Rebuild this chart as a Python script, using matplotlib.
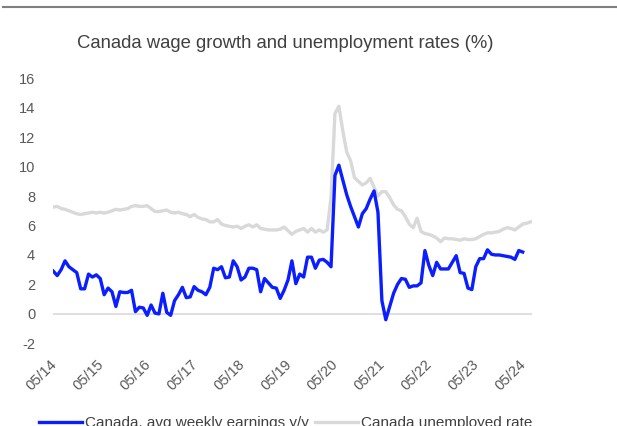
import numpy as np
import matplotlib
matplotlib.use("Agg")
import matplotlib.pyplot as plt
import matplotlib.transforms as mtransforms
from matplotlib.lines import Line2D

plt.rcParams['font.family'] = ['Liberation Sans', 'DejaVu Sans']
plt.rcParams['axes.unicode_minus'] = False

# monthly data, May 2014 onwards
wages = [2.9, 2.6, 3.0, 3.6, 3.2, 3.0, 2.8, 1.7, 1.7, 2.7,
         2.5, 2.65, 2.4, 1.3, 1.75, 1.5, 0.5, 1.5, 1.45, 1.45,
         1.6, 0.15, 0.45, 0.4, -0.1, 0.6, 0.05, 0.0, 1.4, 0.1,
         -0.1, 0.9, 1.3, 1.8, 1.1, 1.15, 1.85, 1.6, 1.5, 1.3,
         1.8, 3.1, 3.0, 3.2, 2.45, 2.5, 3.6, 3.2, 2.3, 2.5,
         3.1, 3.1, 3.0, 1.5, 2.4, 2.1, 1.8, 1.75, 1.05, 1.6,
         2.3, 3.6, 2.05, 2.7, 2.5, 3.85, 3.85, 3.1, 3.65, 3.7,
         3.5, 3.2, 9.4, 10.1, 9.1, 8.1, 7.3, 6.6, 5.9, 6.8,
         7.15, 7.8, 8.35, 6.9, 0.9, -0.4, 0.5, 1.4, 2.0, 2.4,
         2.35, 1.8, 1.9, 1.9, 2.1, 4.3, 3.3, 2.6, 3.5, 3.05,
         3.05, 3.05, 3.5, 3.95, 2.8, 2.75, 1.75, 1.65, 3.2, 3.75,
         3.75, 4.35, 4.05, 4.0, 4.0, 3.95, 3.9, 3.85, 3.7, 4.3,
         4.2]

unemployment = [7.25, 7.3, 7.15, 7.1, 7.0, 6.9, 6.8, 6.75, 6.8, 6.85,
                6.9, 6.85, 6.9, 6.85, 6.9, 7.0, 7.1, 7.05, 7.1, 7.15,
                7.3, 7.35, 7.3, 7.3, 7.35, 7.15, 6.95, 6.95, 7.0, 7.05,
                6.9, 6.85, 6.9, 6.8, 6.75, 6.6, 6.75, 6.55, 6.45, 6.4,
                6.25, 6.25, 6.4, 6.1, 6.0, 5.95, 5.9, 5.95, 5.8, 5.95,
                6.05, 5.9, 6.05, 5.8, 5.75, 5.7, 5.7, 5.7, 5.75, 5.9,
                5.65, 5.4, 5.6, 5.7, 5.8, 5.55, 5.8, 5.55, 5.7, 5.55,
                5.7, 7.9, 13.6, 14.1, 12.45, 11.0, 10.4, 9.25, 9.0, 8.75,
                8.9, 9.2, 8.6, 8.0, 8.3, 8.3, 7.9, 7.4, 7.1, 7.0,
                6.6, 6.1, 5.85, 6.5, 5.6, 5.45, 5.4, 5.3, 5.15, 4.9,
                5.15, 5.1, 5.1, 5.05, 5.0, 5.1, 5.05, 5.05, 5.1, 5.25,
                5.4, 5.5, 5.5, 5.55, 5.6, 5.75, 5.85, 5.8, 5.7, 5.9,
                6.1, 6.15, 6.25]

tick_labels = ['05/14', '05/15', '05/16', '05/17', '05/18', '05/19',
               '05/20', '05/21', '05/22', '05/23', '05/24']

fig = plt.figure(figsize=(6.17, 4.26), dpi=100)
ax = fig.add_axes([53.3 / 617, 82.7 / 426, 478.4 / 617, 265 / 426])

ax.axhline(0, color='#d9d9d9', lw=1.2, zorder=1)
l1, = ax.plot(np.arange(len(wages)), wages, color='#0a1eff', lw=2.4,
              solid_joinstyle='round', zorder=3)
l2, = ax.plot(np.arange(len(unemployment)), unemployment, color='#d9d9d9',
              lw=2.4, solid_joinstyle='round', zorder=2)

ax.set_xlim(0, 122.3)
ax.set_ylim(-2, 16)
ax.set_yticks(range(-2, 17, 2))
ax.set_xticks(np.arange(0, 121, 12))
ax.set_xticklabels(tick_labels, rotation=45, ha='right', va='top')
ax.tick_params(axis='both', length=0, labelsize=10.5, colors='#595959')
ax.tick_params(axis='y', pad=13)
ax.tick_params(axis='x', pad=10)
shift = mtransforms.ScaledTranslation(6 / 100, 0, fig.dpi_scale_trans)
for lab in ax.get_xticklabels():
    lab.set_transform(lab.get_transform() + shift)
for s in ax.spines.values():
    s.set_visible(False)

fig.text(77 / 617, 1 - 44 / 426, 'Canada wage growth and unemployment rates (%)',
         fontsize=13.3, color='#404040', ha='left', va='center')

# separator line at the top
fig.add_artist(Line2D([3 / 617, 1], [1 - 7 / 426, 1 - 7 / 426],
                      transform=fig.transFigure, color='#7f7f7f', lw=1.5))

fig.legend([l1, l2], ['Canada, avg weekly earnings y/y', 'Canada unemployed rate'],
           loc='center left', bbox_to_anchor=(39 / 617, 1 - 423 / 426),
           ncol=2, frameon=False, fontsize=11, handlelength=2.8,
           handletextpad=0.2, columnspacing=0.4, borderpad=0, borderaxespad=0,
           labelcolor='#404040')

fig.savefig('out.png', dpi=100)
